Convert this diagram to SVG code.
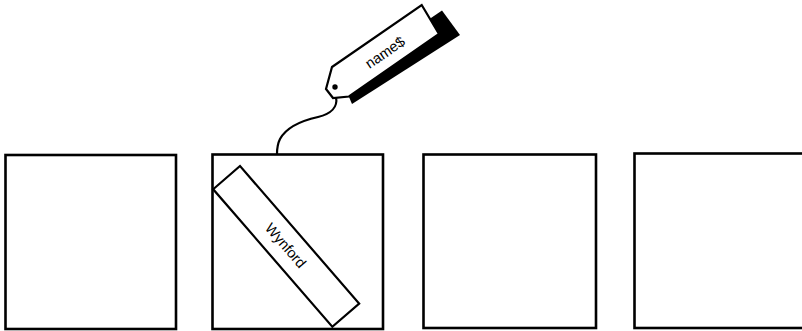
<svg xmlns="http://www.w3.org/2000/svg" width="802" height="331" viewBox="0 0 802 331">
  <style>
    .box { fill: #ffffff; stroke: #000000; stroke-width: 2.6; }
    .outline { fill: #ffffff; stroke: #000000; stroke-width: 2.2; stroke-linejoin: miter; }
    .label { font-family: "Liberation Sans", Arial, sans-serif; font-size: 14.5px; fill: #000000; text-anchor: middle; dominant-baseline: central; }
    .string { fill: none; stroke: #000000; stroke-width: 2.2; stroke-linecap: round; }
  </style>
  <rect width="802" height="331" fill="#ffffff"/>

  <g id="box1">
    <rect class="box" x="5.5" y="155" width="170.5" height="174"/>
  </g>
  <g id="box2">
    <rect class="box" x="212.5" y="154.5" width="170.5" height="174.5"/>
  </g>
  <g id="box3">
    <rect class="box" x="423.5" y="154.5" width="172.5" height="173.5"/>
  </g>
  <g id="box4">
    <rect class="box" x="634.5" y="153.5" width="200" height="174.5"/>
  </g>

  <g id="value-wynford" transform="translate(240,166) rotate(49.1)">
    <rect class="outline" x="0" y="0" width="182" height="35.5"/>
    <text class="label" x="90" y="17.5">Wynford</text>
  </g>

  <g id="connectors">
    <path class="string" d="M336,97 C338,107 331,114 318,117 C300,121 286,128 280,139 C277,145 277,150 277,154"/>
  </g>

  <g id="tag-name">
    <polygon fill="#000000" points="421.4,24.6 442,10.5 460,35 352,104 349,97"/>
    <polygon class="outline" points="332,67 421.7,5 439,34 349,96.5 333,98 326,89"/>
    <circle cx="335" cy="87" r="2.7" fill="#000000"/>
    <text class="label" transform="translate(332,67) rotate(-34.5)" x="52" y="18">name$</text>
  </g>
</svg>
